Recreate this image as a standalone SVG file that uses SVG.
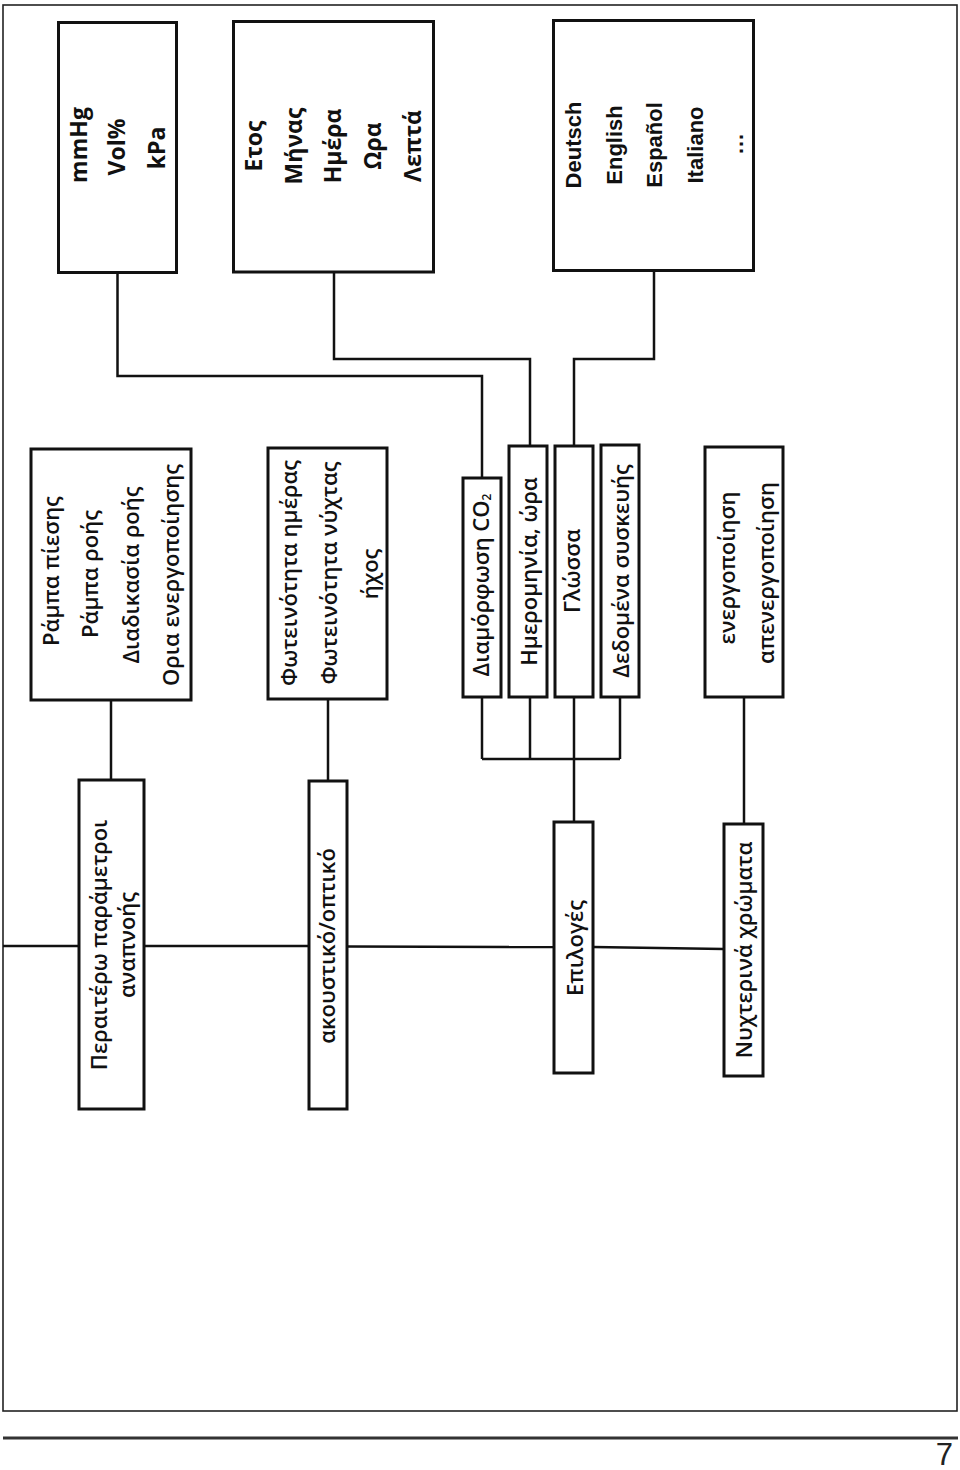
<svg xmlns="http://www.w3.org/2000/svg" width="960" height="1470" viewBox="0 0 960 1470">
<style>
.box{fill:#fff;stroke:#111;stroke-width:3}
.con{fill:none;stroke:#111;stroke-width:2.5}
.t{font-family:"Open Sans","Noto Sans","DejaVu Sans",sans-serif;font-size:22px;font-weight:600;fill:#111;text-anchor:middle}
.tb{font-family:"Open Sans","Noto Sans","DejaVu Sans",sans-serif;font-size:23px;font-weight:700;fill:#111;text-anchor:middle}
.ta{font-family:"Liberation Sans",Arial,sans-serif;font-size:22px;font-weight:700;fill:#111;text-anchor:middle}
</style>
<rect x="3" y="5" width="954" height="1406" fill="#fff" stroke="#222" stroke-width="1.6"/>
<line x1="3" y1="1438" x2="958" y2="1438" stroke="#333" stroke-width="3"/>
<text x="953" y="1465" font-family="Liberation Sans,Arial,sans-serif" font-size="31" fill="#222" text-anchor="end">7</text>

<g id="connectors">
<polyline class="con" points="117.5,273 117.5,376 482,376 482,478"/>
<polyline class="con" points="334,272 334,359 530,359 530,446"/>
<polyline class="con" points="654,270 654,359 574,359 574,446"/>
<line class="con" x1="111" y1="700" x2="111" y2="780"/>
<line class="con" x1="328" y1="699" x2="328" y2="781"/>
<line class="con" x1="482" y1="697" x2="482" y2="759"/>
<line class="con" x1="530" y1="697" x2="530" y2="759"/>
<line class="con" x1="620" y1="697" x2="620" y2="759"/>
<line class="con" x1="574" y1="697" x2="574" y2="822"/>
<line class="con" x1="482" y1="759" x2="620" y2="759"/>
<line class="con" x1="744" y1="697" x2="744" y2="824"/>
<polyline class="con" points="3,946 79,946"/>
<polyline class="con" points="144,946 309,946"/>
<polyline class="con" points="347,946.5 554,947"/>
<polyline class="con" points="593,947 724,949"/>
</g>

<g id="units">
<rect class="box" x="58.5" y="22.5" width="118" height="250"/>
<text class="tb" transform="translate(87,145) rotate(-90)">mmHg</text>
<text class="tb" transform="translate(125,147) rotate(-90)">Vol%</text>
<text class="tb" transform="translate(165,148) rotate(-90)">kPa</text>
</g>

<g id="datetime-values">
<rect class="box" x="233.5" y="21.5" width="200" height="250.5"/>
<text class="tb" transform="translate(262,146) rotate(-90)">Ετος</text>
<text class="tb" transform="translate(302,146) rotate(-90)">Μήνας</text>
<text class="tb" transform="translate(341,146) rotate(-90)">Ημέρα</text>
<text class="tb" transform="translate(381,146) rotate(-90)">Ωρα</text>
<text class="tb" transform="translate(421,146) rotate(-90)">Λεπτά</text>
</g>

<g id="languages">
<rect class="box" x="553.5" y="20.5" width="200" height="250"/>
<text class="ta" transform="translate(581,145) rotate(-90)">Deutsch</text>
<text class="ta" transform="translate(621.5,145) rotate(-90)">English</text>
<text class="ta" transform="translate(662,145) rotate(-90)">Español</text>
<text class="ta" transform="translate(702.5,145) rotate(-90)">Italiano</text>
<text class="ta" transform="translate(743,144) rotate(-90)">…</text>
</g>

<g id="ramps">
<rect class="box" x="31" y="449" width="160" height="251"/>
<text class="t" transform="translate(59,571) rotate(-90)">Ράμπα πίεσης</text>
<text class="t" transform="translate(98,574) rotate(-90)">Ράμπα ροής</text>
<text class="t" transform="translate(139,575) rotate(-90)">Διαδικασία ροής</text>
<text class="t" transform="translate(179,575) rotate(-90)">Ορια ενεργοποίησης</text>
</g>

<g id="brightness">
<rect class="box" x="268" y="448" width="119" height="251"/>
<text class="t" transform="translate(297,573) rotate(-90)">Φωτεινότητα ημέρας</text>
<text class="t" transform="translate(337,573) rotate(-90)">Φωτεινότητα νύχτας</text>
<text class="t" transform="translate(378,574) rotate(-90)">ήχος</text>
</g>

<g id="co2">
<rect class="box" x="463" y="478" width="38" height="219"/>
<text class="t" transform="translate(489,585) rotate(-90)">Διαμόρφωση CO<tspan font-size="12" dy="2">2</tspan></text>
</g>

<g id="date-time">
<rect class="box" x="509" y="446" width="38" height="251"/>
<text class="t" transform="translate(537,571.5) rotate(-90)">Ημερομηνία, ώρα</text>
</g>

<g id="language">
<rect class="box" x="555" y="446" width="38" height="251"/>
<text class="t" transform="translate(580,571) rotate(-90)">Γλώσσα</text>
</g>

<g id="device-data">
<rect class="box" x="601" y="445" width="38" height="252"/>
<text class="t" transform="translate(629,571) rotate(-90)">Δεδομένα συσκευής</text>
</g>

<g id="on-off">
<rect class="box" x="705" y="447" width="78" height="250"/>
<text class="t" transform="translate(735,568) rotate(-90)">ενεργοποίηση</text>
<text class="t" transform="translate(774,573) rotate(-90)">απενεργοποίηση</text>
</g>

<g id="ventilation">
<rect class="box" x="79" y="780" width="65" height="329"/>
<text class="t" transform="translate(107,945) rotate(-90)">Περαιτέρω παράμετροι</text>
<text class="t" transform="translate(135,945) rotate(-90)">αναπνοής</text>
</g>

<g id="audiovisual">
<rect class="box" x="309" y="781" width="38" height="328"/>
<text class="t" transform="translate(335,946) rotate(-90)">ακουστικό/οπτικό</text>
</g>

<g id="options">
<rect class="box" x="554" y="822" width="39" height="251"/>
<text class="t" transform="translate(583,948) rotate(-90)">Επιλογές</text>
</g>

<g id="night-colours">
<rect class="box" x="724" y="824" width="39" height="252"/>
<text class="t" transform="translate(752,950) rotate(-90)">Νυχτερινά χρώματα</text>
</g>
</svg>
